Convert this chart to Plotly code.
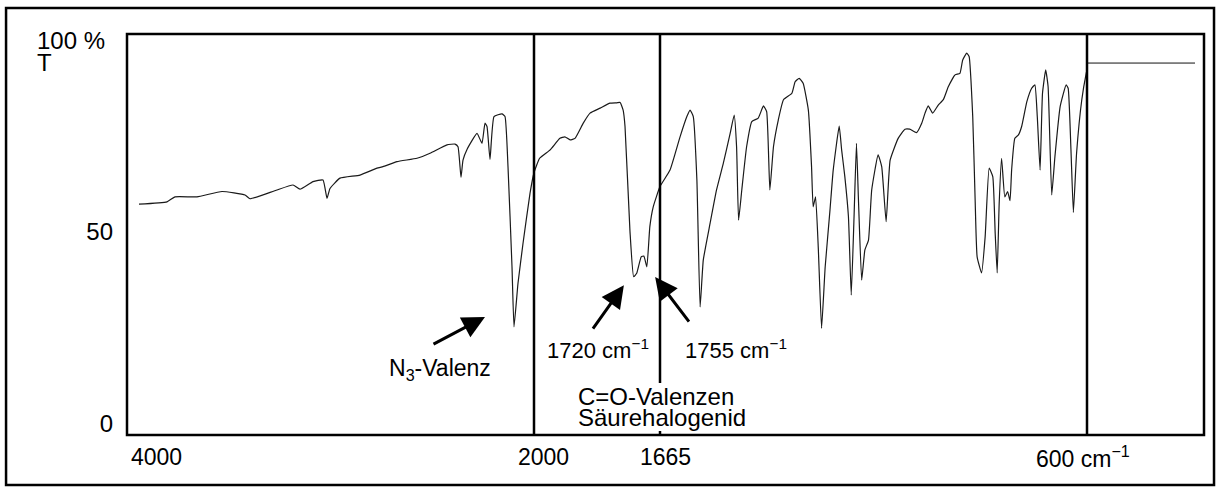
import numpy as np
import plotly.graph_objects as go

# ---------------- data ----------------
# IR spectrum, wavenumber (cm-1) and transmittance (%T)
WN_HIGH = [3975, 3835, 3795, 3685, 3560, 3445, 3420, 3355, 3285, 3205, 3170, 3105,
           3055, 3035, 3020, 2970, 2870, 2785, 2755, 2685, 2585, 2520, 2435, 2395,
           2380, 2365, 2355, 2335, 2285, 2260, 2245, 2235, 2220, 2200, 2160, 2145,
           2130, 2110, 2100, 2080, 2055, 2020]
T_HIGH = [57.3, 57.9, 59.2, 59.2, 60.6, 59.7, 58.7, 59.7, 61.0, 62.3, 61.2, 63.2,
          63.6, 58.8, 61.4, 64.1, 64.9, 66.7, 67.1, 68.4, 69.3, 70.6, 72.8, 73.0,
          72.3, 64.3, 68.8, 71.6, 75.8, 73.2, 78.5, 77.6, 69.0, 80.2, 80.9, 80.2,
          67.1, 40.9, 25.2, 36.6, 47.0, 60.1]

WN_MID = [2000, 1985, 1957, 1931, 1918, 1904, 1891, 1869, 1851, 1824, 1798, 1780,
          1771, 1763, 1758, 1745, 1735, 1727, 1715, 1708, 1700, 1692, 1683, 1665,
          1640, 1615, 1598, 1590, 1582, 1573, 1565, 1557, 1540, 1524, 1507, 1490,
          1480, 1474, 1469, 1461, 1449, 1436, 1420, 1407, 1399, 1391, 1382, 1370,
          1357, 1336, 1328, 1318, 1308, 1295, 1287, 1283, 1277, 1270, 1262, 1253,
          1241, 1233, 1218, 1212, 1204, 1195, 1188, 1181, 1175, 1170, 1162, 1154,
          1145, 1137, 1121, 1112, 1101, 1091]
T_MID = [65.5, 69.3, 71.5, 74.5, 74.9, 74.1, 74.5, 78.5, 81.1, 82.4, 83.7, 83.8,
         83.9, 81.9, 77.6, 50.5, 38.3, 39.2, 43.5, 43.7, 40.9, 51.4, 56.6, 61.9,
         66.2, 74.9, 80.2, 81.9, 80.2, 63.6, 30.4, 42.7, 52.3, 61.0, 68.0, 75.8,
         80.6, 72.3, 53.1, 61.0, 72.3, 78.9, 79.8, 83.0, 81.5, 61.0, 72.3, 79.3,
         84.6, 86.3, 89.3, 90.2, 88.9, 81.9, 67.1, 56.6, 59.2, 45.3, 24.8, 40.9,
         55.8, 66.2, 77.7, 71.5, 64.5, 54.0, 33.5, 54.0, 73.2, 58.4, 37.4, 45.3,
         47.9, 61.0, 70.2, 67.1, 52.7, 68.8]

WN_LOW = [1071, 1054, 1042, 1025, 1012, 1004, 996, 985, 971, 958, 946, 929, 917,
          910, 900, 894, 885, 879, 874, 863, 854, 844, 835, 829, 824, 819, 813,
          805, 798, 792, 788, 780, 771, 763, 750, 738, 730, 724, 717, 711, 703,
          697, 688, 680, 667, 652, 647, 640, 634, 626, 613, 602, 600]
T_LOW = [74.5, 76.9, 76.9, 76.0, 78.5, 81.1, 83.0, 81.1, 83.2, 84.7, 88.0, 91.1,
         91.5, 95.0, 96.8, 95.9, 80.2, 58.4, 43.5, 39.3, 48.8, 66.7, 64.5, 49.7,
         39.3, 57.5, 69.3, 59.2, 60.6, 58.2, 66.2, 74.5, 75.4, 77.6, 84.1, 87.6,
         88.5, 80.2, 66.2, 86.3, 92.4, 88.0, 59.7, 69.7, 82.8, 88.5, 87.6, 71.5,
         55.1, 70.6, 84.6, 91.5, 92.4]

# reference (100 % baseline) line beyond 600 cm-1
WN_REF = [598, 330]
T_REF = [94.2, 94.2]

X_TICKS = [4000, 2000, 1665, 600]
X_TICK_TEXT = ["4000", "2000", "1665", "600 cm<sup>−1</sup>"]
Y_TICKS = [0, 50]
Y_TICK_TEXT = ["0", "50"]

# ---------------- axis scale (half scale above 2000 cm-1) ----------------
SCALE_WN = [4000, 2000, 1665, 600, 300]
SCALE_POS = [7, 407, 533, 960, 1080]


def pos(w):
    return np.interp(-np.asarray(w, dtype=float), -np.array(SCALE_WN, dtype=float), SCALE_POS)


wn = WN_HIGH + WN_MID + WN_LOW
tt = T_HIGH + T_MID + T_LOW
assert len(wn) == len(tt)

FONT = "Liberation Sans, Arial, sans-serif"
fig = go.Figure()
fig.add_trace(go.Scatter(x=pos(wn), y=tt, mode="lines",
                         line=dict(color="#1a1a1a", width=1.2, shape="spline", smoothing=0.4),
                         hoverinfo="skip"))
fig.add_trace(go.Scatter(x=pos(WN_REF), y=T_REF, mode="lines",
                         line=dict(color="#111111", width=1.0), hoverinfo="skip"))

shapes = []
# plot frame
shapes.append(dict(type="rect", xref="paper", yref="paper", x0=0, x1=1, y0=0, y1=1,
                   line=dict(color="black", width=2.5)))
# outer frame
shapes.append(dict(type="rect", xref="paper", yref="paper", x0=-0.1123, x1=1.0093,
                   y0=-0.1247, y1=1.0648, line=dict(color="black", width=2.5)))
# scale marker lines
for w in [2000, 600]:
    xp = float(pos(w))
    shapes.append(dict(type="line", xref="x", yref="paper", x0=xp, x1=xp, y0=0, y1=1,
                       line=dict(color="black", width=2.5)))
xp = float(pos(1665))
shapes.append(dict(type="line", xref="x", yref="paper", x0=xp, x1=xp, y0=0.1297, y1=1,
                   line=dict(color="black", width=2.5)))
shapes.append(dict(type="line", xref="x", yref="paper", x0=xp, x1=xp, y0=0, y1=0.01,
                   line=dict(color="black", width=2.5)))

ann = []
f22 = dict(family=FONT, size=22, color="black")
f23 = dict(family=FONT, size=23, color="black")
f24 = dict(family=FONT, size=24, color="black")
# x tick labels
shifts = [-5, 9, 5, -4]
anchors = ["left", "center", "center", "center"]
for w, t, s, a in zip(X_TICKS, X_TICK_TEXT, shifts, anchors):
    ann.append(dict(x=float(pos(w)), xref="x", y=-0.055, yref="paper", text=t,
                    showarrow=False, xanchor=a, yanchor="middle", xshift=s, font=f23))
# y axis title
ann.append(dict(x=-0.0854, xref="paper", y=0.985, yref="paper", text="100 %",
                showarrow=False, xanchor="left", yanchor="middle", font=f24))
ann.append(dict(x=-0.0854, xref="paper", y=0.928, yref="paper", text="T",
                showarrow=False, xanchor="left", yanchor="middle", font=f24))

# band labels
ann.append(dict(x=float(pos(2470)), y=14.1, text="N<sub>3</sub>-Valenz", showarrow=False,
                xanchor="center", yanchor="middle", font=f23))
ann.append(dict(x=float(pos(1830)), y=19.4, text="1720 cm<sup>−1</sup>", showarrow=False,
                xanchor="center", yanchor="middle", font=f22))
ann.append(dict(x=float(pos(1475)), y=19.4, text="1755 cm<sup>−1</sup>", showarrow=False,
                xanchor="center", yanchor="middle", font=f22))
ann.append(dict(x=float(pos(1888)), y=7.1, text="C=O-Valenzen", showarrow=False,
                xanchor="left", yanchor="middle", font=f24))
ann.append(dict(x=float(pos(1888)), y=1.4, text="Säurehalogenid", showarrow=False,
                xanchor="left", yanchor="middle", font=f24))

# arrows (tip at band, tail offset in px)
for w, t, ax, ay in [(2245, 27.8, -53, 28), (1761, 36.1, -32, 45), (1678, 38.2, 35, 46)]:
    ann.append(dict(x=float(pos(w)), y=t, ax=ax, ay=ay, axref="pixel", ayref="pixel",
                    text="", showarrow=True, arrowhead=2, arrowsize=1.5, arrowwidth=3,
                    arrowcolor="black", standoff=0, startstandoff=0))

fig.update_layout(
    width=1222, height=493,
    margin=dict(l=127, r=18, t=34, b=58),
    paper_bgcolor="white", plot_bgcolor="white",
    showlegend=False,
    shapes=shapes, annotations=ann,
    font=dict(family=FONT, size=22, color="black"),
    xaxis=dict(range=[0, 1077], showgrid=False, zeroline=False, showticklabels=False,
               ticks="", showline=False, fixedrange=True),
    yaxis=dict(range=[-3.1, 101.8], showgrid=False, zeroline=False, tickvals=Y_TICKS,
               ticktext=Y_TICK_TEXT, ticks="", showline=False, ticklabelstandoff=13,
               tickfont=f24, fixedrange=True),
)

fig.write_html("out.html", config={"displayModeBar": False},
               post_script="document.body.style.margin='0px';")
